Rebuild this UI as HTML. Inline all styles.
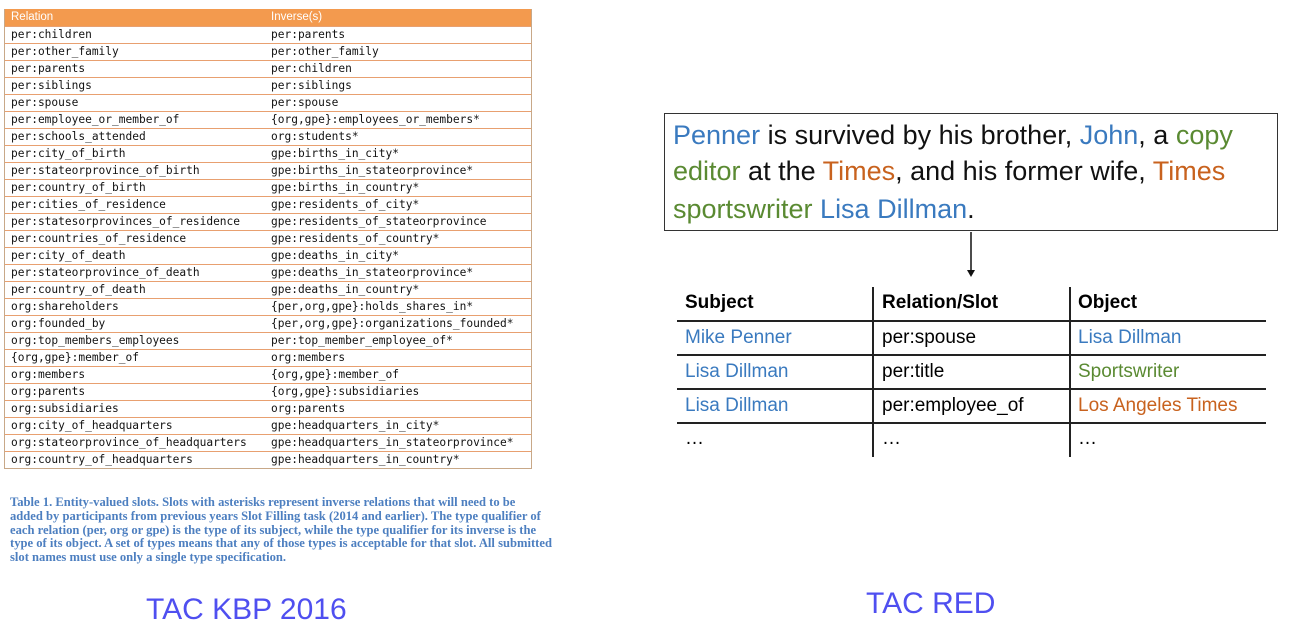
<!DOCTYPE html>
<html><head><meta charset="utf-8"><style>
body{margin:0;width:1292px;height:638px;background:#fff;position:relative;overflow:hidden;font-family:"Liberation Sans",sans-serif}
.t{position:absolute;left:4px;top:9px;width:526px;border:1px solid #c8a888;border-top:none}
.h{height:17px;background:#f39a4e;color:#fff;font-size:11.5px;line-height:17px;position:relative}
.r{height:16px;border-top:1px solid #e8a070;font-family:"DejaVu Sans Mono","Liberation Mono",monospace;font-size:11.2px;line-height:16px;color:#111;position:relative}
.r span,.h span{position:absolute;top:0}
.a{left:6px}.b{left:266px}
.cap{position:absolute;left:10px;top:496px;font-family:"Liberation Serif",serif;font-weight:bold;font-size:12.6px;line-height:13.8px;color:#4d7fc0;white-space:nowrap}
.big{position:absolute;color:#4f4ff0;font-size:30px}
.box{position:absolute;left:664px;top:113px;width:614px;height:118px;border:1.5px solid #333;box-sizing:border-box}
.s{position:absolute;left:8px;font-size:27px;color:#111;white-space:nowrap}
.bl{color:#3a7abf}.gr{color:#5a8a32}.or{color:#c8621e}
.tr{position:absolute;font-size:19px;white-space:nowrap}
.hl{position:absolute;left:677px;width:589px;height:1.5px;background:#222}
.vl{position:absolute;top:287px;height:170px;width:1.5px;background:#222}
</style></head><body>
<div class="t">
<div class="h"><span class="a">Relation</span><span class="b">Inverse(s)</span></div>
<div class="r"><span class="a">per:children</span><span class="b">per:parents</span></div>
<div class="r"><span class="a">per:other_family</span><span class="b">per:other_family</span></div>
<div class="r"><span class="a">per:parents</span><span class="b">per:children</span></div>
<div class="r"><span class="a">per:siblings</span><span class="b">per:siblings</span></div>
<div class="r"><span class="a">per:spouse</span><span class="b">per:spouse</span></div>
<div class="r"><span class="a">per:employee_or_member_of</span><span class="b">{org,gpe}:employees_or_members*</span></div>
<div class="r"><span class="a">per:schools_attended</span><span class="b">org:students*</span></div>
<div class="r"><span class="a">per:city_of_birth</span><span class="b">gpe:births_in_city*</span></div>
<div class="r"><span class="a">per:stateorprovince_of_birth</span><span class="b">gpe:births_in_stateorprovince*</span></div>
<div class="r"><span class="a">per:country_of_birth</span><span class="b">gpe:births_in_country*</span></div>
<div class="r"><span class="a">per:cities_of_residence</span><span class="b">gpe:residents_of_city*</span></div>
<div class="r"><span class="a">per:statesorprovinces_of_residence</span><span class="b">gpe:residents_of_stateorprovince</span></div>
<div class="r"><span class="a">per:countries_of_residence</span><span class="b">gpe:residents_of_country*</span></div>
<div class="r"><span class="a">per:city_of_death</span><span class="b">gpe:deaths_in_city*</span></div>
<div class="r"><span class="a">per:stateorprovince_of_death</span><span class="b">gpe:deaths_in_stateorprovince*</span></div>
<div class="r"><span class="a">per:country_of_death</span><span class="b">gpe:deaths_in_country*</span></div>
<div class="r"><span class="a">org:shareholders</span><span class="b">{per,org,gpe}:holds_shares_in*</span></div>
<div class="r"><span class="a">org:founded_by</span><span class="b">{per,org,gpe}:organizations_founded*</span></div>
<div class="r"><span class="a">org:top_members_employees</span><span class="b">per:top_member_employee_of*</span></div>
<div class="r"><span class="a">{org,gpe}:member_of</span><span class="b">org:members</span></div>
<div class="r"><span class="a">org:members</span><span class="b">{org,gpe}:member_of</span></div>
<div class="r"><span class="a">org:parents</span><span class="b">{org,gpe}:subsidiaries</span></div>
<div class="r"><span class="a">org:subsidiaries</span><span class="b">org:parents</span></div>
<div class="r"><span class="a">org:city_of_headquarters</span><span class="b">gpe:headquarters_in_city*</span></div>
<div class="r"><span class="a">org:stateorprovince_of_headquarters</span><span class="b">gpe:headquarters_in_stateorprovince*</span></div>
<div class="r"><span class="a">org:country_of_headquarters</span><span class="b">gpe:headquarters_in_country*</span></div>
</div>
<div class="cap">Table 1. Entity-valued slots. Slots with asterisks represent inverse relations that will need to be<br>added by participants from previous years Slot Filling task (2014 and earlier). The type qualifier of<br>each relation (per, org or gpe) is the type of its subject, while the type qualifier for its inverse is the<br>type of its object. A set of types means that any of those types is acceptable for that slot. All submitted<br>slot names must use only a single type specification.</div>
<div class="big" style="left:146px;top:593px">TAC KBP 2016</div>
<div class="big" style="left:866px;top:587px">TAC RED</div>

<div class="box">
<div class="s" style="top:6px"><span class="bl">Penner</span> is survived by his brother, <span class="bl">John</span>, a <span class="gr">copy</span></div>
<div class="s" style="top:42px"><span class="gr">editor</span> at the <span class="or">Times</span>, and his former wife, <span class="or">Times</span></div>
<div class="s" style="top:80px"><span class="gr">sportswriter</span> <span class="bl">Lisa Dillman</span>.</div>
</div>
<svg style="position:absolute;left:0;top:0" width="1292" height="638"><line x1="971" y1="232" x2="971" y2="272" stroke="#111" stroke-width="1.5"/><polygon points="967,270 975,270 971,277" fill="#111"/></svg>
<div class="vl" style="left:872px"></div><div class="vl" style="left:1069px"></div>
<div class="hl" style="top:320px"></div><div class="hl" style="top:354px"></div><div class="hl" style="top:388px"></div><div class="hl" style="top:422px"></div>
<div class="tr" style="left:685px;top:292px;font-weight:bold">Subject</div>
<div class="tr" style="left:882px;top:292px;font-weight:bold">Relation/Slot</div>
<div class="tr" style="left:1078px;top:292px;font-weight:bold">Object</div>
<div class="tr bl" style="left:685px;top:327px">Mike Penner</div>
<div class="tr" style="left:882px;top:327px">per:spouse</div>
<div class="tr bl" style="left:1078px;top:327px">Lisa Dillman</div>
<div class="tr bl" style="left:685px;top:361px">Lisa Dillman</div>
<div class="tr" style="left:882px;top:361px">per:title</div>
<div class="tr gr" style="left:1078px;top:361px">Sportswriter</div>
<div class="tr bl" style="left:685px;top:395px">Lisa Dillman</div>
<div class="tr" style="left:882px;top:395px">per:employee_of</div>
<div class="tr or" style="left:1078px;top:395px">Los Angeles Times</div>
<div class="tr" style="left:685px;top:428px">…</div>
<div class="tr" style="left:882px;top:428px">…</div>
<div class="tr" style="left:1078px;top:428px">…</div>
</body></html>
